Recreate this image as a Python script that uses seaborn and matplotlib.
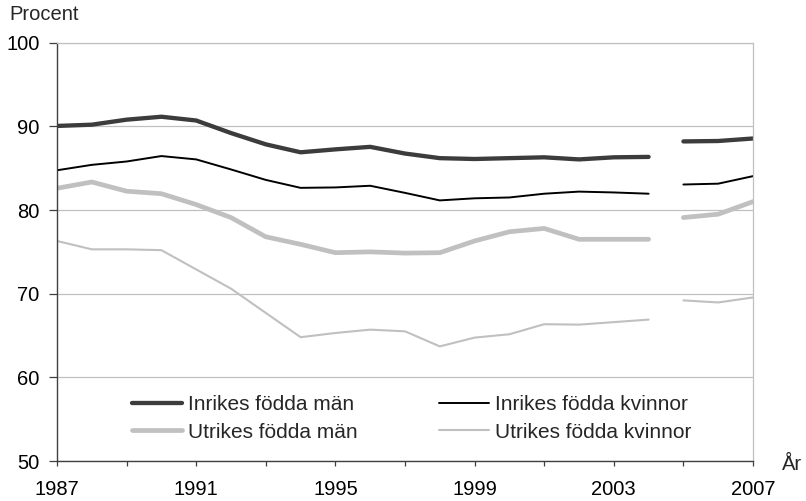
import numpy as np
import pandas as pd
import matplotlib
matplotlib.use("Agg")
import matplotlib.pyplot as plt
from matplotlib.lines import Line2D
import seaborn as sns

# data (series break between 2004 and 2005)
years_1 = list(range(1987, 2005))
years_2 = [2005, 2006, 2007]

inrikes_man_1 = [90.05, 90.2, 90.8, 91.15, 90.7, 89.2, 87.85, 86.9, 87.25, 87.55,
                 86.75, 86.2, 86.1, 86.2, 86.3, 86.05, 86.3, 86.35]
inrikes_man_2 = [88.2, 88.25, 88.55]

inrikes_kvinnor_1 = [84.75, 85.4, 85.8, 86.45, 86.05, 84.85, 83.6, 82.65, 82.7, 82.9,
                     82.05, 81.15, 81.4, 81.5, 81.95, 82.2, 82.1, 81.95]
inrikes_kvinnor_2 = [83.05, 83.15, 84.05]

utrikes_man_1 = [82.6, 83.35, 82.25, 81.95, 80.65, 79.1, 76.8, 75.9, 74.9, 75.0,
                 74.85, 74.9, 76.3, 77.4, 77.8, 76.5, 76.5, 76.5]
utrikes_man_2 = [79.1, 79.5, 81.0]

utrikes_kvinnor_1 = [76.3, 75.3, 75.3, 75.2, 72.9, 70.6, 67.7, 64.8, 65.3, 65.7,
                     65.5, 63.7, 64.75, 65.15, 66.35, 66.3, 66.6, 66.9]
utrikes_kvinnor_2 = [69.2, 68.95, 69.55]

series_names = ["Inrikes födda män", "Inrikes födda kvinnor",
                "Utrikes födda män", "Utrikes födda kvinnor"]
label_years = [1987, 1991, 1995, 1999, 2003, 2007]
minor_years = [1989, 1993, 1997, 2001, 2005]
y_ticks = [50, 60, 70, 80, 90, 100]

colors = {
    "Inrikes födda män": "#3c3c3c",
    "Inrikes födda kvinnor": "#000000",
    "Utrikes födda män": "#c0c0c0",
    "Utrikes födda kvinnor": "#c0c0c0",
}
widths = {
    "Inrikes födda män": 3.1,
    "Inrikes födda kvinnor": 1.4,
    "Utrikes födda män": 3.4,
    "Utrikes födda kvinnor": 1.5,
}

# long table, one unit per period so the lines break at 2005
rows = []
segments = [
    (series_names[0], inrikes_man_1, inrikes_man_2),
    (series_names[1], inrikes_kvinnor_1, inrikes_kvinnor_2),
    (series_names[2], utrikes_man_1, utrikes_man_2),
    (series_names[3], utrikes_kvinnor_1, utrikes_kvinnor_2),
]
for name, first, second in segments:
    for yr, v in zip(years_1, first):
        rows.append({"year": yr, "value": v, "series": name, "period": 1})
    for yr, v in zip(years_2, second):
        rows.append({"year": yr, "value": v, "series": name, "period": 2})
df = pd.DataFrame(rows)

sns.set_theme(style="white")
plt.rcParams["font.family"] = ["Liberation Sans", "DejaVu Sans"]

fig = plt.figure(figsize=(8.06, 5.01), dpi=100)
ax = fig.add_axes([57 / 806, 1 - 461 / 501, (753 - 57) / 806, (461 - 42.7) / 501])

sns.lineplot(data=df, x="year", y="value", hue="series", size="series",
             units="period", estimator=None, hue_order=series_names,
             size_order=series_names, palette=colors, sizes=widths,
             legend=False, ax=ax, solid_capstyle="round", solid_joinstyle="round")

ax.set_xlim(1987, 2007)
ax.set_ylim(50, 100)
ax.set_xticks(label_years)
ax.set_xticks(minor_years, minor=True)
ax.set_yticks(y_ticks)
ax.set_xlabel("")
ax.set_ylabel("")

ax.yaxis.grid(True, color="#c0c0c0", linewidth=0.9)
ax.xaxis.grid(False)
ax.set_axisbelow(True)

for side in ["left", "bottom"]:
    ax.spines[side].set_color("#404040")
    ax.spines[side].set_linewidth(1.0)
ax.spines["top"].set_color("#c0c0c0")
ax.spines["top"].set_linewidth(0.9)
ax.spines["right"].set_color("#c0c0c0")
ax.spines["right"].set_linewidth(0.9)

ax.tick_params(axis="x", which="both", direction="out", length=3.5, width=0.9,
               color="#404040", bottom=True, pad=10, labelsize=14.5, labelcolor="black")
ax.tick_params(axis="y", direction="out", length=5.5, width=0.9, color="#404040",
               left=True, pad=7, labelsize=14.5, labelcolor="black")

fig.text(9 / 806, 1 - 15 / 501, "Procent", fontsize=14.5, va="center", ha="left")
fig.text(782 / 806, 1 - 464 / 501, "År", fontsize=14.5, va="center", ha="left")

# legend rows: Inrikes on the first row, Utrikes on the second
order = [series_names[0], series_names[2], series_names[1], series_names[3]]
handles = [Line2D([], [], color=colors[n], linewidth=widths[n], solid_capstyle="round")
           for n in order]
fig.legend(handles, order, loc="upper left", bbox_to_anchor=(132 / 806, 1 - 395 / 501),
           ncol=2, frameon=False, fontsize=15, handlelength=2.4, handletextpad=0.3,
           columnspacing=3.9, labelspacing=0.41, borderpad=0, borderaxespad=0)

fig.savefig("out.png", dpi=100, facecolor="white")
